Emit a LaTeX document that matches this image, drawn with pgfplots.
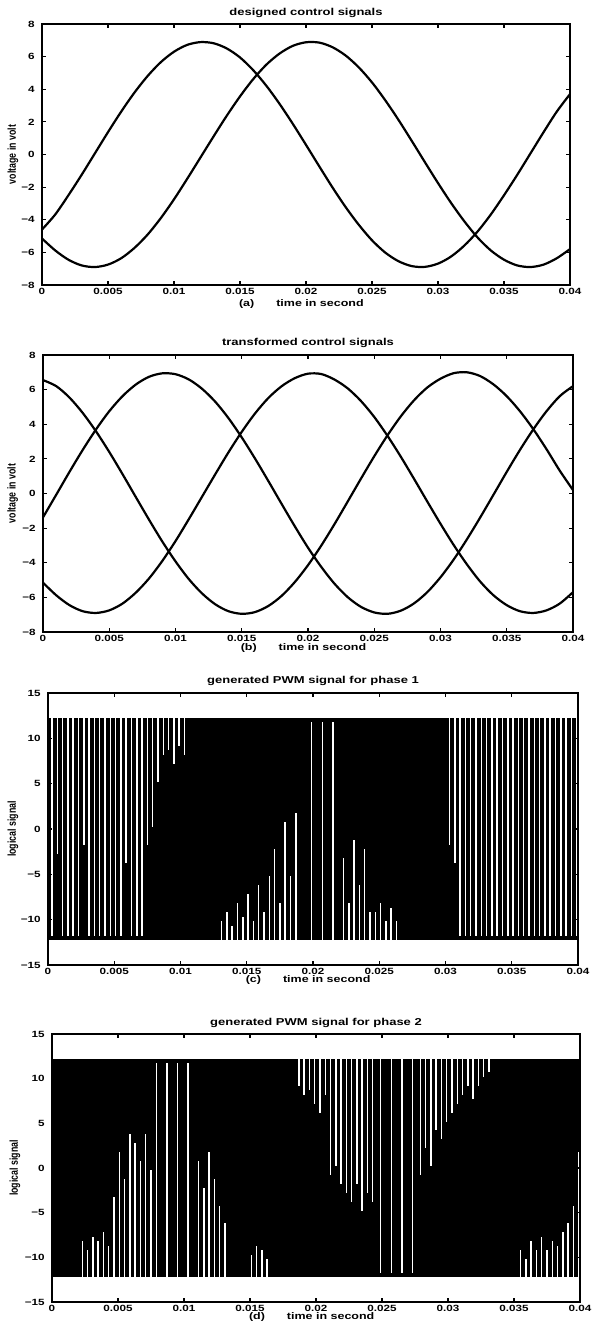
\documentclass[border=0pt]{standalone}
\usepackage{fontspec}
\setmainfont[FakeStretch=1.3]{Liberation Sans}
\newfontfamily\ylfont{Liberation Sans}
\usepackage{graphicx}
\usepackage{pgfplots}
\pgfplotsset{compat=1.18}

% MATLAB-like look of the scanned figure
\pgfplotsset{
  matfig/.style={
    scale only axis, anchor=south west,
    axis line style={line width=0.8pt},
    every tick/.style={line width=0.6pt, black},
    major tick length=2.2pt,
    tick align=inside,
    xmin=0, xmax=40,
    xtick={0,5,...,40},
    xticklabels={0,0.005,0.01,0.015,0.02,0.025,0.03,0.035,0.04},
    tick label style={font=\fontsize{4.5}{5}\selectfont\bfseries, inner sep=1pt},
    xticklabel style={yshift=-0.5pt},
    yticklabel style={xshift=-2.5pt},
    title style={font=\fontsize{5}{6}\selectfont\bfseries,
      at={(axis description cs:0.5,1)}, anchor=center},
    xlabel style={font=\fontsize{4.8}{6}\selectfont\bfseries,
      at={(axis description cs:0.375,0)}, anchor=west, xshift=-4pt},
    ylabel style={font=\ylfont\fontsize{4.4}{5}\selectfont\bfseries, anchor=center},
  },
  volt/.style={ymin=-8, ymax=8, ytick={-8,-6,...,8},
    yticklabels={−8,−6,−4,−2,0,2,4,6,8}},
  logic/.style={ymin=-15, ymax=15, ytick={-15,-10,...,15},
    yticklabels={−15,−10,−5,0,5,10,15}},
  sig/.style={black, line width=1.1pt, smooth},
  pwm/.style={black, line width=1.8pt, const plot},
}

\begin{document}
\begin{tikzpicture}
\useasboundingbox (0,0) rectangle (297pt,662pt);

% (a) designed control signals
\begin{axis}[matfig, volt, at={(21pt,519.5pt)}, width=264pt, height=130.5pt,
  title={designed control signals}, title style={yshift=-0.5pt},
  xlabel={(a)\hspace{11pt}time in second}, xlabel style={yshift=-9.5pt},
  ylabel={\scalebox{1}[1.3]{voltage in volt}},
  ylabel style={at={(axis description cs:-0.055,0.5)}}]
\addplot[sig] coordinates {
(0,-4.6)(1,-3.68)(2,-2.50)(3,-1.25)(4,0.06)(5,1.37)(6,2.63)(7,3.79)(8,4.81)(9,5.66)
(10,6.30)(11,6.72)(12,6.89)(13,6.82)(14,6.50)(15,5.95)(16,5.17)(17,4.21)(18,3.10)(19,1.88)
(20,0.59)(21,-0.72)(22,-2.01)(23,-3.22)(24,-4.31)(25,-5.26)(26,-6.01)(27,-6.54)(28,-6.84)(29,-6.89)
(30,-6.69)(31,-6.25)(32,-5.58)(33,-4.72)(34,-3.68)(35,-2.50)(36,-1.25)(37,0.06)(38,1.37)(39,2.63)
(40,3.7)};
\addplot[sig] coordinates {
(0,-5.15)(1,-5.88)(2,-6.45)(3,-6.80)(4,-6.90)(5,-6.75)(6,-6.36)(7,-5.73)(8,-4.91)(9,-3.90)
(10,-2.75)(11,-1.49)(12,-0.19)(13,1.11)(14,2.38)(15,3.56)(16,4.62)(17,5.51)(18,6.19)(19,6.66)
(20,6.88)(21,6.86)(22,6.58)(23,6.07)(24,5.34)(25,4.42)(26,3.33)(27,2.13)(28,0.85)(29,-0.46)
(30,-1.75)(31,-2.98)(32,-4.10)(33,-5.09)(34,-5.88)(35,-6.45)(36,-6.80)(37,-6.90)(38,-6.75)(39,-6.36)
(40,-5.8)};
\end{axis}

% (b) transformed control signals
\begin{axis}[matfig, volt, at={(21.5pt,346pt)}, width=265pt, height=138.5pt,
  title={transformed control signals},
  xlabel={(b)\hspace{11pt}time in second}, xlabel style={yshift=-8pt},
  ylabel={\scalebox{1}[1.3]{voltage in volt}},
  ylabel style={at={(axis description cs:-0.057,0.5)}}]
\addplot[sig] coordinates {
(0,-1.38)(1,-0.07)(2,1.25)(3,2.52)(4,3.70)(5,4.75)(6,5.62)(7,6.29)(8,6.74)(9,6.94)
(10,6.89)(11,6.59)(12,6.05)(13,5.30)(14,4.35)(15,3.24)(16,2.02)(17,0.73)(18,-0.59)(19,-1.89)
(20,-3.13)(21,-4.24)(22,-5.21)(23,-5.99)(24,-6.55)(25,-6.87)(26,-6.95)(27,-6.77)(28,-6.35)(29,-5.70)
(30,-4.84)(31,-3.81)(32,-2.64)(33,-1.38)(34,-0.07)(35,1.25)(36,2.52)(37,3.70)(38,4.75)(39,5.62)
(40,6.2)};
\addplot[sig] coordinates {
(0,-5.15)(1,-5.88)(2,-6.45)(3,-6.80)(4,-6.90)(5,-6.75)(6,-6.36)(7,-5.73)(8,-4.91)(9,-3.90)
(10,-2.75)(11,-1.49)(12,-0.19)(13,1.11)(14,2.38)(15,3.56)(16,4.62)(17,5.51)(18,6.19)(19,6.66)
(20,6.92)(21,6.90)(22,6.58)(23,6.07)(24,5.34)(25,4.42)(26,3.33)(27,2.13)(28,0.85)(29,-0.46)
(30,-1.75)(31,-2.98)(32,-4.10)(33,-5.09)(34,-5.88)(35,-6.45)(36,-6.80)(37,-6.90)(38,-6.75)(39,-6.36)
(40,-5.7)};
\addplot[sig] coordinates {
(0,6.55)(1,6.20)(2,5.54)(3,4.65)(4,3.59)(5,2.40)(6,1.12)(7,-0.20)(8,-1.51)(9,-2.77)
(10,-3.92)(11,-4.94)(12,-5.77)(13,-6.40)(14,-6.80)(15,-6.95)(16,-6.85)(17,-6.50)(18,-5.92)(19,-5.12)
(20,-4.14)(21,-3.01)(22,-1.77)(23,-0.46)(24,0.86)(25,2.15)(26,3.36)(27,4.45)(28,5.38)(29,6.12)
(30,6.63)(31,6.95)(32,7.00)(33,6.78)(34,6.30)(35,5.62)(36,4.75)(37,3.72)(38,2.56)(39,1.32)
(40,0.2)};
\end{axis}

% (c) generated PWM signal for phase 1
\begin{axis}[matfig, logic, at={(24pt,179.5pt)}, width=265pt, height=136pt,
  title={generated PWM signal for phase 1},
  xlabel={(c)\hspace{11pt}time in second}, xlabel style={yshift=-7.5pt},
  ylabel={\scalebox{1}[1.3]{logical signal}},
  ylabel style={at={(axis description cs:-0.066,0.5)}}]
\addplot[pwm] coordinates {
(0,-12)
(0.092,12)(0.108,-12)(0.492,12)(0.508,-12)(0.692,-3)(0.708,-12)(0.892,12)(0.908,-12)
(1.292,12)(1.308,-12)(1.692,12)(1.708,-12)(2.092,12)(2.108,-12)(2.492,12)(2.508,-12)
(2.692,-2)(2.708,-12)(2.892,12)(2.908,-12)(3.292,12)(3.308,-12)(3.692,12)(3.708,-12)
(4.092,12)(4.108,-12)(4.492,12)(4.508,-12)(4.892,12)(4.908,-12)(5.292,12)(5.308,-12)
(5.692,12)(5.708,-12)(5.892,-4)(5.908,-12)(6.092,12)(6.108,-12)(6.492,12)(6.508,-12)
(6.892,12)(6.908,-12)(7.292,12)(7.308,-12)
(7.492,-2)(7.508,-12)(7.692,12)(7.708,-12)(7.892,0)(7.908,-12)(8.092,12)(8.108,-12)
(8.292,5)(8.308,-12)(8.492,12)(8.508,-12)(8.692,8)(8.708,-12)(8.892,12)(8.908,-12)
(9.092,8.5)(9.108,-12)(9.292,12)(9.308,-12)(9.492,7)(9.508,-12)(9.692,12)(9.708,-12)
(9.892,9)(9.908,-12)(10.092,12)(10.108,-12)(10.292,8)(10.308,-12)
(10.492,12)(10.508,-12)(10.692,12)(10.708,-12)(10.892,12)(10.908,-12)(11.092,12)(11.108,-12)
(11.292,12)(11.308,-12)(11.492,12)(11.508,-12)(11.692,12)(11.708,-12)(11.892,12)(11.908,-12)
(12.092,12)(12.108,-12)(12.292,12)(12.308,-12)(12.492,12)(12.508,-12)(12.692,12)
(12.892,-12)(12.908,12)(13.092,-10)(13.108,12)(13.292,-12)(13.308,12)(13.492,-9)(13.508,12)
(13.692,-12)(13.708,12)(13.892,-10.5)(13.908,12)(14.092,-12)(14.108,12)(14.292,-8)(14.308,12)
(14.492,-12)(14.508,12)(14.692,-9.5)(14.708,12)(14.892,-12)(14.908,12)(15.092,-7)(15.108,12)
(15.292,-12)(15.308,12)(15.492,-10)(15.508,12)(15.692,-12)(15.708,12)(15.892,-6)(15.908,12)
(16.092,-12)(16.108,12)(16.292,-9)(16.308,12)(16.492,-12)(16.508,12)(16.692,-5)(16.708,12)
(16.892,-12)(16.908,12)(17.092,-2)(17.108,12)(17.292,-12)(17.308,12)(17.492,-8)(17.508,12)
(17.692,-12)(17.708,12)(17.892,1)(17.908,12)(18.092,-12)(18.108,12)(18.292,-5)(18.308,12)
(18.492,-12)(18.508,12)(18.692,2)(18.708,12)(18.892,-12)(18.908,12)(19.092,-12)(19.108,12)
(19.292,-12)(19.308,12)(19.492,-12)(19.508,12)(19.692,-12)(19.708,12)
(20.092,-12)(20.108,12)(20.292,-12)(20.308,12)(20.492,-12)(20.508,12)
(20.892,-12)(20.908,12)(21.092,-12)(21.108,12)(21.292,-12)(21.308,12)
(21.692,-12)(21.708,12)(21.892,-12)(21.908,12)
(22.092,-12)(22.108,12)(22.292,-3)(22.308,12)(22.492,-12)(22.508,12)(22.692,-8)(22.708,12)
(22.892,-12)(22.908,12)(23.092,-1)(23.108,12)(23.292,-12)(23.308,12)(23.492,-6)(23.508,12)
(23.692,-12)(23.708,12)(23.892,-2)(23.908,12)(24.092,-12)(24.108,12)(24.292,-9)(24.308,12)
(24.492,-12)(24.508,12)(24.692,-9)(24.708,12)(24.892,-12)(24.908,12)(25.092,-8)(25.108,12)
(25.292,-12)(25.308,12)(25.492,-10)(25.508,12)(25.692,-12)(25.708,12)(25.892,-8.5)(25.908,12)
(26.092,-12)(26.108,12)(26.292,-10)(26.308,12)(26.492,-12)(26.508,12)
(26.692,-12)(26.708,12)(26.892,-12)(26.908,12)(27.092,-12)(27.108,12)(27.292,-12)(27.308,12)
(27.492,-12)(27.508,12)(27.692,-12)(27.708,12)(27.892,-12)(27.908,12)(28.092,-12)(28.108,12)
(28.292,-12)
(28.492,12)(28.508,-12)(28.692,12)(28.708,-12)(28.892,12)(28.908,-12)(29.092,12)(29.108,-12)
(29.292,12)(29.308,-12)(29.492,12)(29.508,-12)(29.692,12)(29.708,-12)(29.892,12)(29.908,-12)
(30.092,12)(30.108,-12)(30.292,-2)(30.308,-12)(30.492,12)(30.508,-12)(30.692,-4)(30.708,-12)
(30.892,12)(30.908,-12)(31.292,12)(31.308,-12)(31.692,12)(31.708,-12)(32.092,12)(32.108,-12)
(32.492,12)(32.508,-12)(32.892,12)(32.908,-12)(33.292,12)(33.308,-12)(33.692,12)(33.708,-12)
(34.092,12)(34.108,-12)(34.492,12)(34.508,-12)(34.892,12)(34.908,-12)(35.292,12)(35.308,-12)
(35.692,12)(35.708,-12)(36.092,12)(36.108,-12)(36.492,12)(36.508,-12)(36.892,12)(36.908,-12)
(37.292,12)(37.308,-12)(37.692,12)(37.708,-12)(38.092,12)(38.108,-12)(38.492,12)(38.508,-12)
(38.892,12)(38.908,-12)(39.292,12)(39.308,-12)(39.692,12)(39.708,-12)
(40,-12)};
\end{axis}

% (d) generated PWM signal for phase 2
\begin{axis}[matfig, logic, at={(26pt,11pt)}, width=264pt, height=134pt,
  title={generated PWM signal for phase 2}, title style={yshift=-0.5pt},
  xlabel={(d)\hspace{11pt}time in second}, xlabel style={yshift=-7.5pt},
  ylabel={\scalebox{1}[1.3]{logical signal}},
  ylabel style={at={(axis description cs:-0.07,0.5)}}]
\addplot[pwm] coordinates {
(0,12)
(0.092,-12)(0.108,12)(0.292,-12)(0.308,12)(0.492,-12)(0.508,12)(0.692,-12)(0.708,12)
(0.892,-12)(0.908,12)(1.092,-12)(1.108,12)(1.292,-12)(1.308,12)(1.492,-12)(1.508,12)
(1.692,-12)(1.708,12)(1.892,-12)(1.908,12)(2.092,-12)(2.108,12)
(2.292,-8)(2.308,12)(2.492,-12)(2.508,12)(2.692,-9)(2.708,12)(2.892,-12)(2.908,12)
(3.092,-7.5)(3.108,12)(3.292,-12)(3.308,12)(3.492,-8)(3.508,12)(3.692,-12)(3.708,12)
(3.892,-7)(3.908,12)(4.092,-12)(4.108,12)(4.292,-8.5)(4.308,12)(4.492,-12)(4.508,12)
(4.692,-3)(4.708,12)(4.892,-12)(4.908,12)(5.092,2)(5.108,12)(5.292,-12)(5.308,12)
(5.492,-1)(5.508,12)(5.692,-12)(5.708,12)(5.892,4)(5.908,12)(6.092,-12)(6.108,12)
(6.292,3)(6.308,12)(6.492,-12)(6.508,12)(6.692,1)(6.708,12)(6.892,-12)(6.908,12)
(7.092,4)(7.108,12)(7.292,-12)(7.308,12)(7.492,0)(7.508,12)
(7.692,-12)(7.708,12)(8.092,-12)(8.108,12)(8.292,-12)(8.308,12)(8.492,-12)(8.508,12)
(8.892,-12)(8.908,12)(9.092,-12)(9.108,12)(9.292,-12)(9.308,12)
(9.692,-12)(9.708,12)(9.892,-12)(9.908,12)(10.092,-12)(10.108,12)
(10.492,-12)(10.508,12)(10.692,-12)(10.708,12)(10.892,-12)(10.908,12)
(11.092,1)(11.108,12)(11.292,-12)(11.308,12)(11.492,-2)(11.508,12)(11.692,-12)(11.708,12)
(11.892,2)(11.908,12)(12.092,-12)(12.108,12)(12.292,-1)(12.308,12)(12.492,-12)(12.508,12)
(12.692,-4)(12.708,12)(12.892,-12)(12.908,12)(13.092,-6)(13.108,12)(13.292,-12)(13.308,12)
(13.492,-12)(13.508,12)(13.692,-12)(13.708,12)(13.892,-12)(13.908,12)(14.092,-12)(14.108,12)
(14.292,-12)(14.308,12)(14.492,-12)(14.508,12)(14.692,-12)(14.708,12)(14.892,-12)(14.908,12)
(15.092,-9.5)(15.108,12)(15.292,-12)(15.308,12)(15.492,-8.5)(15.508,12)(15.692,-12)(15.708,12)
(15.892,-9)(15.908,12)(16.092,-12)(16.108,12)(16.292,-10)(16.308,12)(16.492,-12)(16.508,12)
(16.692,-12)(16.708,12)(16.892,-12)(16.908,12)(17.092,-12)(17.108,12)(17.292,-12)(17.308,12)
(17.492,-12)
(17.692,12)(17.708,-12)(17.892,12)(17.908,-12)(18.092,12)(18.108,-12)(18.292,12)(18.308,-12)
(18.492,12)(18.508,-12)(18.692,9)(18.708,-12)(18.892,12)(18.908,-12)(19.092,8)(19.108,-12)
(19.292,12)(19.308,-12)(19.492,8.5)(19.508,-12)(19.692,12)(19.708,-12)(19.892,7)(19.908,-12)
(20.092,12)(20.108,-12)(20.292,6)(20.308,-12)(20.492,12)(20.508,-12)(20.692,8)(20.708,-12)
(20.892,12)(20.908,-12)(21.092,-1)(21.108,-12)(21.292,12)(21.308,-12)(21.492,0)(21.508,-12)
(21.692,12)(21.708,-12)(21.892,-2)(21.908,-12)
(22.092,12)(22.108,-12)(22.292,-3)(22.308,-12)(22.492,12)(22.508,-12)(22.692,-4)(22.708,-12)
(22.892,12)(22.908,-12)(23.092,-2)(23.108,-12)(23.292,12)(23.308,-12)(23.492,-5)(23.508,-12)
(23.692,12)(23.708,-12)(23.892,-3)(23.908,-12)(24.092,12)(24.108,-12)(24.292,-4)(24.308,-12)
(24.492,12)(24.508,-12)(24.692,12)(24.708,-12)
(25.092,12)(25.108,-12)(25.292,12)(25.308,-12)(25.492,12)(25.508,-12)
(25.892,12)(25.908,-12)(26.092,12)(26.108,-12)(26.292,12)(26.308,-12)
(26.692,12)(26.708,-12)(26.892,12)(26.908,-12)(27.092,12)(27.108,-12)
(27.492,12)(27.508,-12)(27.692,12)(27.708,-12)
(27.892,-1)(27.908,-12)(28.092,12)(28.108,-12)(28.292,2)(28.308,-12)(28.492,12)(28.508,-12)
(28.692,0)(28.708,-12)(28.892,12)(28.908,-12)(29.092,4)(29.108,-12)(29.292,12)(29.308,-12)
(29.492,3)(29.508,-12)(29.692,12)(29.708,-12)(29.892,5)(29.908,-12)(30.092,12)(30.108,-12)
(30.292,6)(30.308,-12)(30.492,12)(30.508,-12)
(30.692,7)(30.708,-12)(30.892,12)(30.908,-12)(31.092,8)(31.108,-12)(31.292,12)(31.308,-12)
(31.492,9)(31.508,-12)(31.692,12)(31.708,-12)(31.892,7.5)(31.908,-12)(32.092,12)(32.108,-12)
(32.292,9)(32.308,-12)(32.492,12)(32.508,-12)(32.692,10)(32.708,-12)(32.892,12)(32.908,-12)
(33.092,10.5)(33.108,-12)
(33.292,12)(33.308,-12)(33.492,12)(33.508,-12)(33.692,12)(33.708,-12)(33.892,12)(33.908,-12)
(34.092,12)(34.108,-12)(34.292,12)
(34.492,-12)(34.508,12)(34.692,-12)(34.708,12)(34.892,-12)(34.908,12)(35.092,-12)(35.108,12)
(35.292,-12)(35.308,12)
(35.492,-9)(35.508,12)(35.692,-12)(35.708,12)(35.892,-10)(35.908,12)(36.092,-12)(36.108,12)
(36.292,-8)(36.308,12)(36.492,-12)(36.508,12)(36.692,-9)(36.708,12)(36.892,-12)(36.908,12)
(37.092,-7.5)(37.108,12)(37.292,-12)(37.308,12)(37.492,-9)(37.508,12)(37.692,-12)(37.708,12)
(37.892,-8)(37.908,12)(38.092,-12)(38.108,12)(38.292,-8.5)(38.308,12)(38.492,-12)(38.508,12)
(38.692,-7)(38.708,12)(38.892,-12)(38.908,12)(39.092,-6)(39.108,12)(39.292,-12)(39.308,12)
(39.492,-4)(39.508,12)(39.692,-12)(39.708,12)(39.892,2)(39.908,12)
(40,12)};
\end{axis}
\end{tikzpicture}
\end{document}
